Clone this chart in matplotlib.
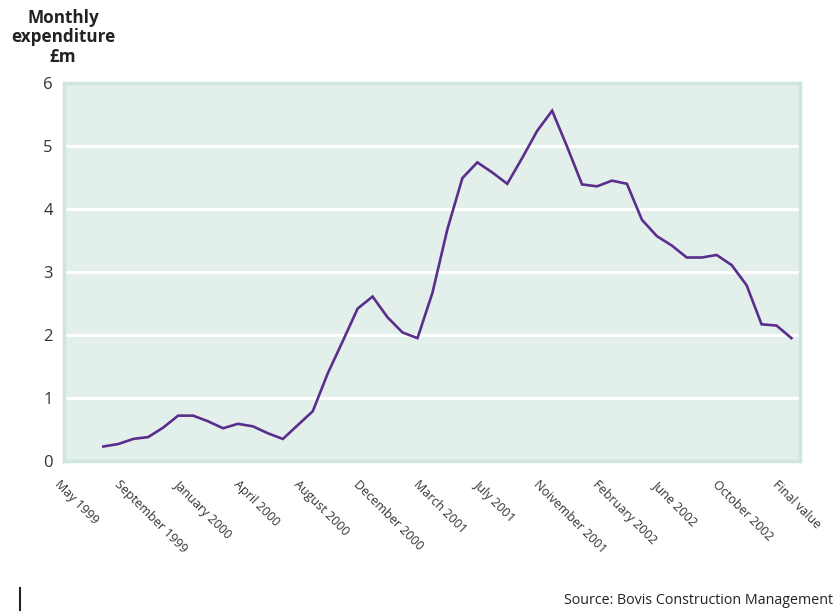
import matplotlib
matplotlib.use("Agg")
import matplotlib.pyplot as plt
import matplotlib.transforms as mtransforms
from matplotlib.lines import Line2D
import numpy as np

plt.rcParams['font.family'] = ['Open Sans', 'DejaVu Sans']

# Monthly expenditure (£m), one value per month
expenditure = [0.23, 0.27, 0.35, 0.38, 0.53, 0.72, 0.72, 0.63, 0.52, 0.59,
               0.55, 0.44, 0.35, 0.57, 0.79, 1.39, 1.90, 2.42, 2.61, 2.28,
               2.04, 1.95, 2.67, 3.68, 4.49, 4.74, 4.58, 4.40, 4.81, 5.24,
               5.56, 4.99, 4.39, 4.36, 4.45, 4.40, 3.83, 3.57, 3.42, 3.23,
               3.23, 3.27, 3.11, 2.79, 2.17, 2.15, 1.95]

category_labels = ["May 1999", "September 1999", "January 2000", "April 2000",
                   "August 2000", "December 2000", "March 2001", "July 2001",
                   "Noivember 2001", "February 2002", "June 2002",
                   "October 2002", "Final value"]

y_ticks = [0, 1, 2, 3, 4, 5, 6]

fig = plt.figure(figsize=(8.37, 6.12), dpi=100)
ax = fig.add_axes([64/837, 1-461/612, (800-64)/837, (461-83)/612])

x = np.arange(len(expenditure))
ax.set_facecolor('#e2efeb')
for y in y_ticks[1:-1]:
    ax.axhline(y, color='white', lw=2.2, zorder=1)
ax.plot(x, expenditure, color='#5c2e8c', lw=1.9, zorder=3, solid_joinstyle='miter')

ax.set_xlim(-2.63, 46.57)
ax.set_ylim(0, 6)
ax.set_yticks(y_ticks)
ax.set_yticklabels([str(v) for v in y_ticks], fontsize=12, color='#333333')
ax.tick_params(axis='y', length=0, pad=8)
ax.set_xticks([])
for s in ax.spines.values():
    s.set_color('#cfe6df')
    s.set_linewidth(2.5)

# category labels, every fourth month
trans = mtransforms.blended_transform_factory(ax.transData, ax.transAxes)
label_pos = np.arange(len(category_labels)) * 4 - 2.83
for pos, lab in zip(label_pos, category_labels):
    ax.text(pos, -0.045, lab, transform=trans, rotation=-45,
            rotation_mode='anchor', ha='left', va='top',
            fontsize=9, color='#333333', clip_on=False)

fig.text(63/837, 1-9/612, "Monthly\nexpenditure\n£m", ha='center', va='top',
         fontsize=12.3, fontweight='bold', color='#222222', linespacing=1.1)

fig.text(833/837, 1-601/612, "Source: Bovis Construction Management",
         ha='right', va='center', fontsize=10.3, color='#222222')

fig.add_artist(Line2D([20/837, 20/837], [1-588/612, 1-610/612],
                      transform=fig.transFigure, color='#222222', lw=1.5))

fig.savefig("out.png", dpi=100)
